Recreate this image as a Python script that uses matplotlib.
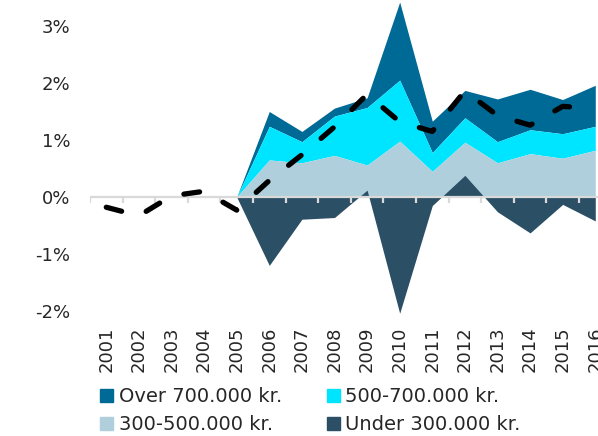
import numpy as np
import matplotlib
matplotlib.use("Agg")
import matplotlib.pyplot as plt
from matplotlib.patches import Patch

# ---- data (percent) ----
years = [str(y) for y in range(2001, 2017)]
# stacked components, only from 2005
over700 = [0, 0, 0, 0, 0, 0.26, 0.18, 0.14, 0.17, 1.37, 0.55, 0.48, 0.75, 0.71, 0.60, 0.72]
mid500_700 = [0, 0, 0, 0, 0, 0.59, 0.37, 0.69, 1.01, 1.07, 0.33, 0.43, 0.37, 0.42, 0.43, 0.42]
mid300_500 = [0, 0, 0, 0, 0, 0.65, 0.60, 0.73, 0.56, 0.98, 0.45, 0.96, 0.60, 0.76, 0.68, 0.82]
under300 = [0, 0, 0, 0, 0, -1.20, -0.39, -0.36, 0.12, -2.04, -0.15, 0.38, -0.26, -0.63, -0.13, -0.42]
total = [-0.18, -0.33, 0.02, 0.10, -0.23, 0.29, 0.74, 1.23, 1.80, 1.32, 1.15, 1.86, 1.43, 1.26, 1.59, 1.55]

labels = ["Over 700.000 kr.", "500-700.000 kr.", "300-500.000 kr.", "Under 300.000 kr."]
c_over = "#006A96"
c_500 = "#00E5FF"
c_300 = "#AECFDB"
c_under = "#2B4F65"
txt = "#262626"

plt.rcParams["font.family"] = ["DejaVu Sans"]

x = np.arange(len(years))
first = 4  # areas start at 2005
xs = x[first:]
l1 = np.array(mid300_500)[first:]
l2 = l1 + np.array(mid500_700)[first:]
l3 = l2 + np.array(over700)[first:]
u = np.array(under300)[first:]

fig = plt.figure(figsize=(5.98, 4.36), dpi=100)
ax = fig.add_axes([0.1505, 0.2606, 0.8722, 0.7582])

ax.fill_between(xs, l2, l3, color=c_over, lw=0)
ax.fill_between(xs, l1, l2, color=c_500, lw=0)
ax.fill_between(xs, 0, l1, color=c_300, lw=0)
ax.fill_between(xs, 0, u, color=c_under, lw=0)

# zero axis line with category boundary ticks
ax.axhline(0, color="#D9D9D9", lw=1.6, zorder=3)
ax.vlines(np.arange(-0.5, len(years)), -0.1, 0, color="#D9D9D9", lw=1.6, zorder=3)

ax.plot(x, total, color="black", lw=3.8, dashes=(3, 5),
        dash_capstyle="round", solid_joinstyle="round", zorder=4)

ax.set_xlim(-0.5, len(years) - 0.5)
ax.set_ylim(-2.2, 3.6)
ax.set_yticks([-2, -1, 0, 1, 2, 3])
ax.set_yticklabels([f"{v}%" for v in [-2, -1, 0, 1, 2, 3]])
ax.set_xticks(x)
ax.set_xticklabels(years, rotation=90)
ax.tick_params(axis="both", length=0, labelsize=13, colors=txt)
ax.tick_params(axis="y", pad=14)
ax.tick_params(axis="x", pad=3)
for s in ax.spines.values():
    s.set_visible(False)

handles = [Patch(color=c_over), Patch(color=c_300), Patch(color=c_500), Patch(color=c_under)]
hl = [labels[0], labels[2], labels[1], labels[3]]
fig.legend(handles, hl, ncol=2, loc="upper left", bbox_to_anchor=(0.168, 0.112),
           frameon=False, fontsize=14, handlelength=0.65, handleheight=0.65,
           handletextpad=0.3, columnspacing=2.3, labelspacing=0.45,
           borderaxespad=0, borderpad=0, labelcolor=txt)

fig.savefig("out.png", dpi=100)
